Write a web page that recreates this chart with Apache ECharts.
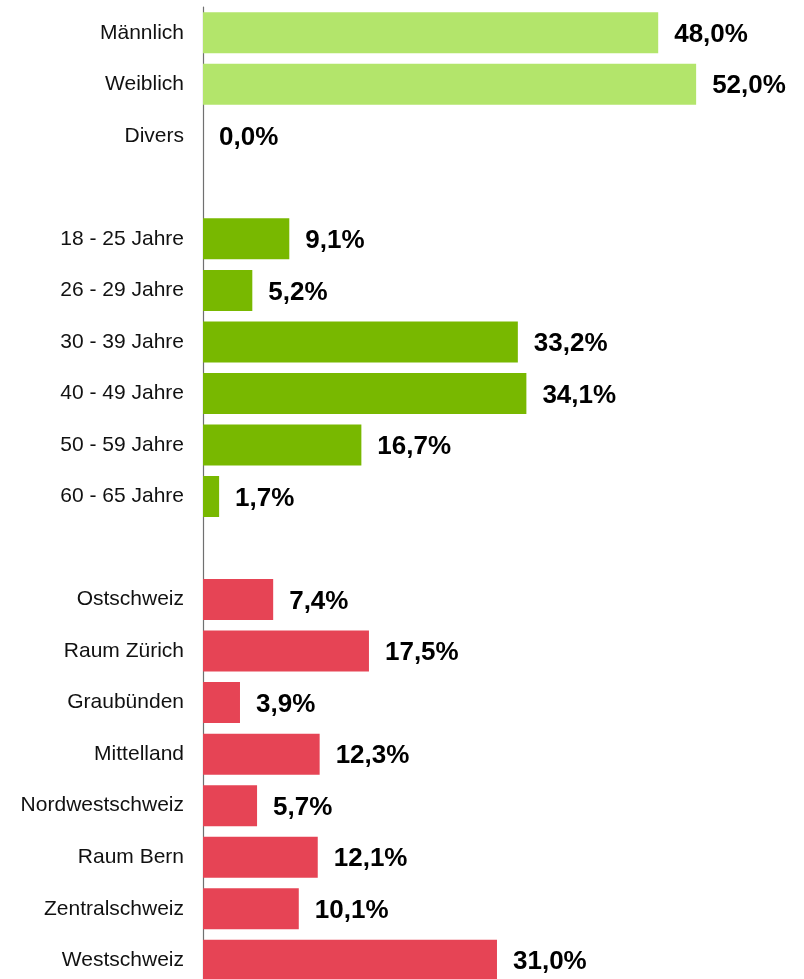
<!DOCTYPE html>
<html><head><meta charset="utf-8">
<script src="https://cdn.jsdelivr.net/npm/echarts@6/dist/echarts.min.js"></script>
<style>html,body{margin:0;padding:0;background:#fff;overflow:hidden}#c{width:804px;height:990px}</style>
</head><body><div id="c"></div>
<script>
const categories = ['Männlich','Weiblich','Divers','','18 - 25 Jahre','26 - 29 Jahre','30 - 39 Jahre','40 - 49 Jahre','50 - 59 Jahre','60 - 65 Jahre','','Ostschweiz','Raum Zürich','Graubünden','Mittelland','Nordwestschweiz','Raum Bern','Zentralschweiz','Westschweiz'];
const values = [48.0,52.0,0.0,null,9.1,5.2,33.2,34.1,16.7,1.7,null,7.4,17.5,3.9,12.3,5.7,12.1,10.1,31.0];
const groups = ['gender','gender','gender',null,'age','age','age','age','age','age',null,'region','region','region','region','region','region','region','region'];
const groupColors = {gender:'#b3e56b', age:'#78b800', region:'#e64455'};

const chart = echarts.init(document.getElementById('c'));
chart.setOption({
  animation:false,
  grid:{left:203, right:32, top:7, height:979},
  xAxis:{type:'value', min:0, max:60, show:false},
  yAxis:{type:'category', data:categories, inverse:true,
    axisLine:{show:true, lineStyle:{color:'#707070', width:1.2}},
    axisTick:{show:false},
    axisLabel:{margin:19, color:'#111', fontSize:21, fontFamily:'Liberation Sans, Arial, sans-serif'}
  },
  series:[{
    type:'bar', barWidth:41,
    data: values.map((v,i)=> v===null ? '-' : {value:v, itemStyle:{color:groupColors[groups[i]]}}),
    label:{show:true, position:'right', distance:16, offset:[0,2], color:'#000', fontWeight:'bold', fontSize:26,
      fontFamily:'Liberation Sans, Arial, sans-serif',
      formatter:p=> p.value.toFixed(1).replace('.',',')+'%'}
  }]
});
</script></body></html>
